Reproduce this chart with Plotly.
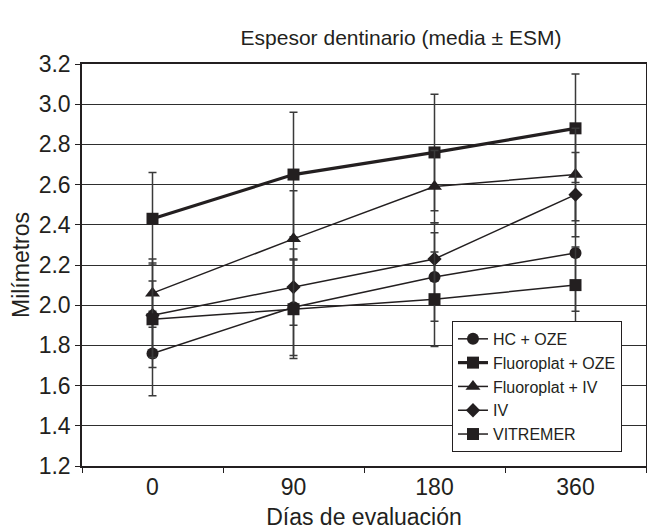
import plotly.graph_objects as go

days = ["0", "90", "180", "360"]

hc_oze = [1.76, 1.99, 2.14, 2.26]
hc_oze_err = [0.21, 0.24, 0.22, 0.29]

fluoro_oze = [2.43, 2.65, 2.76, 2.88]
fluoro_oze_err = [0.23, 0.31, 0.29, 0.27]

fluoro_iv = [2.06, 2.33, 2.59, 2.65]
fluoro_iv_err = [0.17, 0.24, 0.18, 0.23]

iv = [1.95, 2.09, 2.23, 2.55]
iv_err = [0.26, 0.19, 0.18, 0.21]

vitremer = [1.93, 1.98, 2.03, 2.10]
vitremer_err = [0.19, 0.245, 0.235, 0.19]

y_ticks = [1.2, 1.4, 1.6, 1.8, 2.0, 2.2, 2.4, 2.6, 2.8, 3.0, 3.2]

INK = "#231f20"
ERR = "#3a3a3a"
GRID = "#2e2e2e"
FONT = "Liberation Sans, Arial, sans-serif"

series = [
    ("HC + OZE", hc_oze, hc_oze_err, "circle", 12, 1.5),
    ("Fluoroplat + OZE", fluoro_oze, fluoro_oze_err, "square", 12, 3.2),
    ("Fluoroplat + IV", fluoro_iv, fluoro_iv_err, "triangle-up", 13, 1.5),
    ("IV", iv, iv_err, "diamond", 11, 1.5),
    ("VITREMER", vitremer, vitremer_err, "square", 12, 1.5),
]

fig = go.Figure()
for name, vals, errs, sym, size, lw in series:
    fig.add_trace(go.Scatter(
        x=days, y=vals, name=name, mode="lines+markers",
        line=dict(color=INK, width=lw),
        marker=dict(symbol=sym, size=size, color=INK, line=dict(width=0)),
        error_y=dict(type="data", array=errs, visible=True,
                     color=ERR, thickness=1.5, width=4),
    ))

fig.update_layout(
    width=647, height=530,
    margin=dict(l=82, r=1, t=64, b=64, autoexpand=False),
    paper_bgcolor="white", plot_bgcolor="white",
    font=dict(family=FONT, size=22, color=INK),
    title=dict(text="Espesor dentinario (media ± ESM)", x=401 / 647, xanchor="center",
               xref="container", yref="container",
               y=1 - 38 / 530, yanchor="middle", font=dict(size=21, color=INK)),
    showlegend=True,
    legend=dict(x=0.656, y=0.035, xanchor="left", yanchor="bottom",
                bgcolor="white", bordercolor=INK, borderwidth=1,
                font=dict(size=16, color=INK), tracegroupgap=0,
                itemsizing="trace"),
    xaxis=dict(type="category", categoryorder="array", categoryarray=days,
               range=[-0.5, 3.5], showgrid=False, automargin=False,
               showline=True, linecolor=INK, linewidth=1.5, mirror=True,
               ticks="outside", tickson="boundaries", ticklen=5, tickcolor=INK,
               tickfont=dict(size=23, color=INK),
               title=dict(text="Días de evaluación", font=dict(size=23, color=INK), standoff=14)),
    yaxis=dict(range=[1.2, 3.2], tickvals=y_ticks, automargin=False,
               ticktext=[f"{v:.1f}" for v in y_ticks],
               showgrid=True, gridcolor=GRID, gridwidth=1.3,
               showline=True, linecolor=INK, linewidth=1.5, mirror=True,
               ticks="outside", ticklen=5, tickcolor=INK, zeroline=False,
               tickfont=dict(size=23, color=INK),
               title=dict(text="Milímetros", font=dict(size=23, color=INK), standoff=3)),
)

fig.write_html("out.html", config={"displayModeBar": False},
               post_script="document.body.style.margin='0';document.body.style.overflow='hidden';")
